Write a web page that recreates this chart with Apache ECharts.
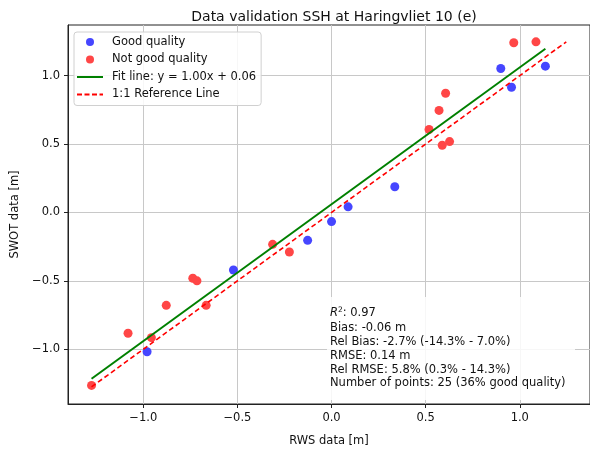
<!DOCTYPE html>
<html>
<head>
<meta charset="utf-8">
<script src="https://cdn.jsdelivr.net/npm/echarts@6/dist/echarts.min.js"></script>
<style>html,body{margin:0;padding:0;background:#fff}#c{width:590px;height:452px}</style>
</head>
<body>
<div id="c"></div>
<script>
// ---- data ----
const goodX = [-0.980, -0.521, -0.127, 0.000, 0.088, 0.336, 0.899, 0.956, 1.136];
const goodY = [-1.018, -0.421, -0.204, -0.067, 0.041, 0.188, 1.052, 0.915, 1.069];
const notGoodX = [-1.275, -1.081, -0.957, -0.878, -0.737, -0.715, -0.666, -0.313, -0.224, 0.518, 0.571, 0.588, 0.606, 0.627, 0.968, 1.086];
const notGoodY = [-1.264, -0.883, -0.915, -0.679, -0.481, -0.500, -0.679, -0.233, -0.289, 0.606, 0.746, 0.491, 0.871, 0.518, 1.240, 1.247];
const fitLineX = [-1.275, 1.136];
const fitLineY = [-1.215, 1.196];
const refLineX = [-1.275, 1.247];
const refLineY = [-1.275, 1.247];
const xTicks = [-1.0, -0.5, 0.0, 0.5, 1.0];
const yTicks = [-1.0, -0.5, 0.0, 0.5, 1.0];
const seriesNames = ['Good quality', 'Not good quality', 'Fit line: y = 1.00x + 0.06', '1:1 Reference Line'];
const titleText = 'Data validation SSH at Haringvliet 10 (e)';
const xName = 'RWS data [m]';
const yName = 'SWOT data [m]';
const statsLines = ['Bias: -0.06 m', 'Rel Bias: -2.7% (-14.3% - 7.0%)', 'RMSE: 0.14 m', 'Rel RMSE: 5.8% (0.3% - 14.3%)', 'Number of points: 25 (36% good quality)'];
const r2Value = '0.97';

const zip = (a, b) => a.map((v, i) => [v, b[i]]);
const fmt = v => (v < 0 ? '\u2212' : '') + Math.abs(v).toFixed(1);
const FONT = 'DejaVu Sans';
const FS = 11.5;

const chart = echarts.init(document.getElementById('c'), null, {renderer: 'canvas'});

const statY = [328.5, 342.5, 356, 370, 383.5];
const graphics = [
  {type: 'rect', shape: {x: 327, y: 297, width: 248, height: 103}, style: {fill: 'rgba(255,255,255,0.85)'}, z: 1, silent: true},
  {type: 'text', x: 330, y: 313.5, z: 3, style: {
    text: '{i|R}{s|2}{n|: ' + r2Value + '}', verticalAlign: 'middle', fill: '#111',
    rich: {
      i: {fontFamily: FONT, fontStyle: 'italic', fontSize: FS, fill: '#111'},
      s: {fontFamily: FONT, fontSize: 7.5, fill: '#111', verticalAlign: 'top', padding: [0, 0, 6, 0]},
      n: {fontFamily: FONT, fontSize: FS, fill: '#111'}
    }
  }}
];
statsLines.forEach((t, i) => graphics.push({
  type: 'text', x: 330, y: statY[i], z: 3,
  style: {text: t, fontFamily: FONT, fontSize: FS, fill: '#111', verticalAlign: 'middle'}
}));

const solidIcon = 'path://M0,0L26,0L26,2L0,2Z';
const dashedIcon = 'path://M0,0h5v2h-5z M7.5,0h5v2h-5z M15,0h5v2h-5z M22.5,0h3.5v2h-3.5z';

const option = {
  animation: false,
  backgroundColor: '#fff',
  textStyle: {fontFamily: FONT},
  title: {
    text: titleText, left: 329, top: 5, textAlign: 'center',
    textStyle: {fontFamily: FONT, fontSize: 14, fontWeight: 'normal', color: '#111'}
  },
  grid: {left: 68, top: 25, width: 523.4, height: 384, show: true, borderColor: '#222', borderWidth: 1},
  legend: {
    orient: 'vertical', left: 74, top: 32,
    padding: [3, 5, 4, 3], itemGap: 3.5, itemWidth: 26, itemHeight: 8,
    backgroundColor: 'rgba(255,255,255,0.85)', borderColor: '#d0d0d0', borderWidth: 1, borderRadius: 3,
    textStyle: {fontFamily: FONT, fontSize: FS, color: '#111', lineHeight: 14, padding: [0, 0, 0, 4]},
    data: [
      {name: seriesNames[0], icon: 'circle', itemStyle: {color: 'rgb(70,70,255)'}},
      {name: seriesNames[1], icon: 'circle', itemStyle: {color: 'rgb(255,70,70)'}},
      {name: seriesNames[2], icon: solidIcon, itemStyle: {color: '#008000', borderWidth: 0}},
      {name: seriesNames[3], icon: dashedIcon, itemStyle: {color: '#ff0000', borderWidth: 0}}
    ]
  },
  xAxis: {
    type: 'value', min: -1.40, max: 1.373,
    name: xName, nameLocation: 'middle', nameGap: 31,
    nameTextStyle: {fontFamily: FONT, fontSize: FS, color: '#111'},
    axisLine: {show: true, onZero: false, lineStyle: {color: '#222', width: 1}},
    axisTick: {show: true, length: 4, customValues: xTicks, lineStyle: {color: '#222'}},
    axisLabel: {customValues: xTicks, formatter: fmt, fontFamily: FONT, fontSize: FS, color: '#111', margin: 8},
    splitLine: {show: true, customValues: xTicks, lineStyle: {color: '#c8c8c8', width: 1}}
  },
  yAxis: {
    type: 'value', min: -1.40, max: 1.37,
    name: yName, nameLocation: 'middle', nameGap: 40, nameRotate: 90,
    nameTextStyle: {fontFamily: FONT, fontSize: FS, color: '#111'},
    axisLine: {show: true, onZero: false, lineStyle: {color: '#222', width: 1}},
    axisTick: {show: true, length: 4, customValues: yTicks, lineStyle: {color: '#222'}},
    axisLabel: {customValues: yTicks, formatter: fmt, fontFamily: FONT, fontSize: FS, color: '#111', margin: 8},
    splitLine: {show: true, customValues: yTicks, lineStyle: {color: '#c8c8c8', width: 1}}
  },
  series: [
    {name: seriesNames[0], type: 'scatter', data: zip(goodX, goodY), symbolSize: 9,
      itemStyle: {color: 'rgb(70,70,255)', opacity: 1}, z: 2},
    {name: seriesNames[1], type: 'scatter', data: zip(notGoodX, notGoodY), symbolSize: 9,
      itemStyle: {color: 'rgb(255,70,70)', opacity: 1}, z: 2},
    {name: seriesNames[2], type: 'line', data: zip(fitLineX, fitLineY), symbol: 'none',
      lineStyle: {color: '#008000', width: 2}, itemStyle: {color: '#008000'}, z: 4},
    {name: seriesNames[3], type: 'line', data: zip(refLineX, refLineY), symbol: 'none',
      lineStyle: {color: '#ff0000', width: 1.6, type: [5, 3]}, itemStyle: {color: '#ff0000'}, z: 5}
  ],
  graphic: graphics
};
chart.setOption(option);
</script>
</body>
</html>
